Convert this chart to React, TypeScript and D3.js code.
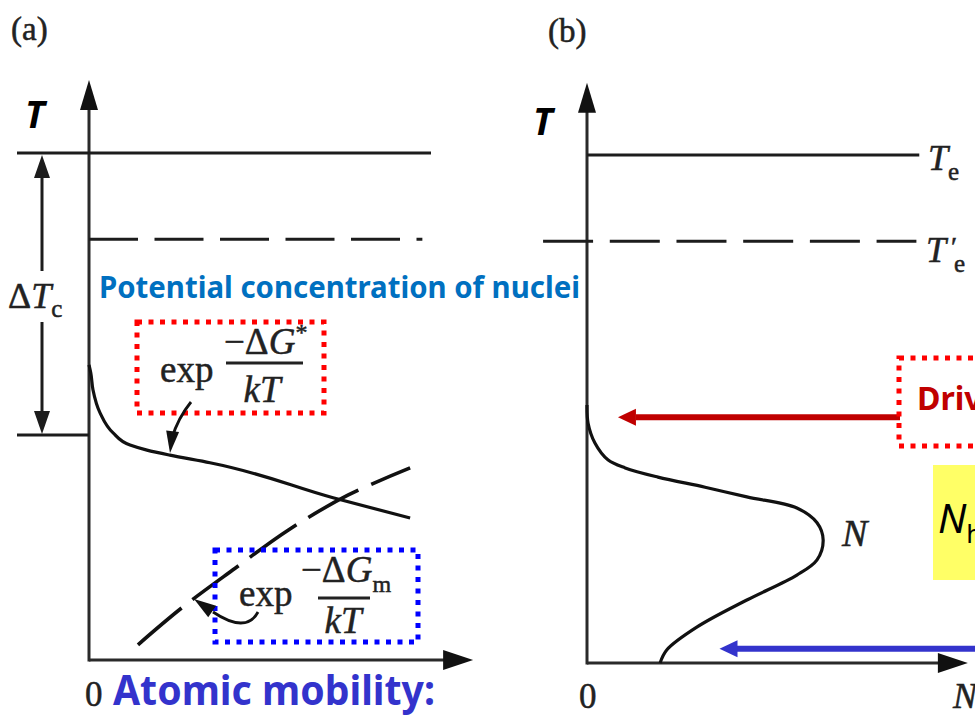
import { useEffect, useRef } from "react";
import * as d3 from "d3";

const W = 975;
const H = 715;

// temperature levels, in T-axis units (0 = origin, 100 = Te)
const levelTe = 100;
const levelTePrime = 83;
const levelTc = 44.4;
const levelDriving = 48.4;
const levelMobility = 2.8;

// axis extents (x units, T units)
const axisTopA = 114.4;
const axisRightA = 106.7;
const axisTopB = 114.2;
const axisRightB = 105.8;

// panel (a): exp(-ΔG*/kT), potential concentration of nuclei  [rate, T]
const nucleationCurve: [number, number][] = [
  [0, 58.2],
  [0.5, 56.6],
  [1.1, 53.3],
  [3.1, 48.7],
  [6.7, 44.8],
  [11.4, 42.4],
  [16.1, 41.4],
  [22.5, 40.4],
  [33.6, 38.9],
  [67.8, 32.0],
  [89.2, 28.0],
];

// panel (a): exp(-ΔGm/kT), atomic mobility  [rate, T]
const mobilityCurve: [number, number][] = [
  [13.6, 3.0],
  [25.8, 10.3],
  [40.6, 18.1],
  [55.3, 25.6],
  [71.9, 32.5],
  [89.2, 37.9],
];

// panel (b): N, nucleation rate  [rate, T]
const nCurve: [number, number][] = [
  [0, 50.8],
  [0.3, 47.2],
  [2.2, 43.3],
  [5.8, 40.0],
  [10.6, 38.4],
  [19.7, 36.6],
  [32.8, 34.6],
  [44.4, 32.7],
  [58.3, 30.5],
  [63.9, 27.6],
  [65.6, 24.2],
  [63.9, 20.3],
  [58.3, 17.3],
  [44.4, 12.4],
  [30.6, 7.1],
  [22.2, 2.6],
  [20.3, 0],
];

const INK = "#1c1c1c";
const SERIF = "'Liberation Serif', 'DejaVu Serif', serif";
const SANS = "'Noto Sans', 'Open Sans', sans-serif";

function head(g: any, tx: number, ty: number, angle: number, len: number, half: number, fill: string) {
  const c = Math.cos(angle);
  const s = Math.sin(angle);
  const bx = tx - c * len;
  const by = ty - s * len;
  const px = -s * half;
  const py = c * half;
  g.append("path")
    .attr("d", `M${tx},${ty}L${bx + px},${by + py}L${bx - px},${by - py}Z`)
    .attr("fill", fill);
}

function hline(g: any, x1: number, x2: number, y: number, dash?: string) {
  g.append("line")
    .attr("x1", x1)
    .attr("x2", x2)
    .attr("y1", y)
    .attr("y2", y)
    .attr("stroke", INK)
    .attr("stroke-width", 3)
    .attr("stroke-dasharray", dash || null);
}

function axes(g: any, x: any, y: any, top: number, right: number) {
  const x0 = x(0);
  const y0 = y(0);
  g.append("line")
    .attr("x1", x0).attr("x2", x0)
    .attr("y1", y0 + 1.5).attr("y2", y(top) + 20)
    .attr("stroke", "#2a2a2a").attr("stroke-width", 3);
  head(g, x0, y(top), -Math.PI / 2, 30, 9, "#111");
  g.append("line")
    .attr("x1", x0).attr("x2", x(right) - 20)
    .attr("y1", y0).attr("y2", y0)
    .attr("stroke", "#2a2a2a").attr("stroke-width", 3);
  head(g, x(right), y0, 0, 30, 10, "#111");
}

// serif text built from tspans: {t, i (italic), dx, dy, s (size)}
function rich(g: any, x: number, y: number, size: number, parts: any[], anchor = "start") {
  const t = g.append("text")
    .attr("x", x).attr("y", y)
    .attr("font-family", SERIF)
    .attr("font-size", size)
    .attr("fill", "#222")
    .attr("stroke", "#222")
    .attr("stroke-width", 0.5)
    .attr("text-anchor", anchor);
  parts.forEach((p) => {
    const s = t.append("tspan").text(p.t);
    if (p.i) s.attr("font-style", "italic");
    if (p.dx) s.attr("dx", p.dx);
    if (p.dy) s.attr("dy", p.dy);
    if (p.s) s.attr("font-size", p.s);
  });
  return t;
}

export default function App() {
  const ref = useRef<SVGSVGElement | null>(null);

  useEffect(() => {
    if (!ref.current) return;
    const svg = d3.select(ref.current);
    svg.selectAll("*").remove();

    const xA = d3.scaleLinear().domain([0, 100]).range([89, 449]);
    const yA = d3.scaleLinear().domain([0, 100]).range([660, 153]);
    const xB = d3.scaleLinear().domain([0, 100]).range([587, 947]);
    const yB = d3.scaleLinear().domain([0, 100]).range([663, 155]);

    const lineA = d3
      .line<[number, number]>()
      .x((d) => xA(d[0]))
      .y((d) => yA(d[1]));
    const lineB = d3
      .line<[number, number]>()
      .x((d) => xB(d[0]))
      .y((d) => yB(d[1]))
      .curve(d3.curveCatmullRom.alpha(0.5));

    // ---------- panel (a) ----------
    const a = svg.append("g");
    rich(a, 11, 40, 33, [{ t: "(a)" }]);
    a.append("text")
      .attr("x", 25).attr("y", 128)
      .attr("font-family", SANS).attr("font-weight", 700).attr("font-style", "italic")
      .attr("font-size", 37).text("T");

    axes(a, xA, yA, axisTopA, axisRightA);
    hline(a, xA(-20), xA(95), yA(levelTe));
    hline(a, xA(0), xA(92.6), yA(levelTePrime), "49 16.5");
    hline(a, xA(-20), xA(0), yA(levelTc));

    // ΔTc double arrow
    const ax = 42;
    a.append("line").attr("x1", ax).attr("x2", ax)
      .attr("y1", yA(levelTe) + 20).attr("y2", 271)
      .attr("stroke", INK).attr("stroke-width", 3);
    a.append("line").attr("x1", ax).attr("x2", ax)
      .attr("y1", 322).attr("y2", yA(levelTc) - 20)
      .attr("stroke", INK).attr("stroke-width", 3);
    head(a, ax, yA(levelTe) + 2, -Math.PI / 2, 23, 8, INK);
    head(a, ax, yA(levelTc) - 1, Math.PI / 2, 23, 8, INK);
    rich(a, 8, 308, 36, [{ t: "Δ" }, { t: "T", i: true }, { t: "c", s: 25, dy: 9 }]);

    a.append("text")
      .attr("x", 99).attr("y", 298)
      .attr("font-family", SANS).attr("font-weight", 700)
      .attr("font-size", 30.5).attr("fill", "#0070C0")
      .attr("textLength", 481).attr("lengthAdjust", "spacingAndGlyphs")
      .text("Potential concentration of nuclei");

    a.append("path").attr("d", lineA.curve(d3.curveMonotoneY)(nucleationCurve))
      .attr("fill", "none").attr("stroke", "#111").attr("stroke-width", 3.2);
    a.append("path").attr("d", lineA.curve(d3.curveCatmullRom.alpha(0.5))(mobilityCurve))
      .attr("fill", "none").attr("stroke", "#111").attr("stroke-width", 3.6)
      .attr("stroke-dasharray", "57 14");

    // red box: exp(-ΔG*/kT)
    a.append("rect").attr("x", 137).attr("y", 322).attr("width", 187).attr("height", 91)
      .attr("fill", "none").attr("stroke", "#FF0000").attr("stroke-width", 5)
      .attr("stroke-dasharray", "5 6.5");
    rich(a, 160, 382, 37, [{ t: "exp" }]);
    a.append("line").attr("x1", 226).attr("x2", 303).attr("y1", 363).attr("y2", 363)
      .attr("stroke", "#222").attr("stroke-width", 3);
    rich(a, 224, 354, 37, [{ t: "−Δ" }, { t: "G", i: true }, { t: "*", s: 24, dy: -14 }]);
    rich(a, 262, 402, 37, [{ t: "kT", i: true }], "middle");
    a.append("path").attr("d", "M191,402 Q178,418 172,438")
      .attr("fill", "none").attr("stroke", "#111").attr("stroke-width", 2.8);
    head(a, 170, 453, Math.PI / 2 + 0.12, 22, 6.5, "#111");

    // blue box: exp(-ΔGm/kT)
    a.append("rect").attr("x", 215).attr("y", 550).attr("width", 203).attr("height", 92)
      .attr("fill", "none").attr("stroke", "#0000FF").attr("stroke-width", 5)
      .attr("stroke-dasharray", "5 6.5");
    rich(a, 239, 606, 37, [{ t: "exp" }]);
    a.append("line").attr("x1", 318).attr("x2", 370).attr("y1", 598).attr("y2", 598)
      .attr("stroke", "#222").attr("stroke-width", 3);
    rich(a, 301, 582, 37, [{ t: "−Δ" }, { t: "G", i: true }, { t: "m", s: 24, dy: 10 }]);
    rich(a, 343, 633, 37, [{ t: "kT", i: true }], "middle");
    a.append("path").attr("d", "M258,612 Q246,634 213,612")
      .attr("fill", "none").attr("stroke", "#111").attr("stroke-width", 2.8);
    head(a, 194, 599, Math.PI + 0.6, 22, 7, "#111");

    rich(a, 85, 706, 35, [{ t: "0" }]);
    a.append("text")
      .attr("x", 113).attr("y", 705)
      .attr("font-family", SANS).attr("font-weight", 700)
      .attr("font-size", 41).attr("fill", "#3333CC")
      .attr("textLength", 322).attr("lengthAdjust", "spacingAndGlyphs")
      .text("Atomic mobility:");

    // ---------- panel (b) ----------
    const b = svg.append("g");
    rich(b, 548, 42, 33, [{ t: "(b)" }]);
    b.append("text")
      .attr("x", 533).attr("y", 135)
      .attr("font-family", SANS).attr("font-weight", 700).attr("font-style", "italic")
      .attr("font-size", 37).text("T");

    axes(b, xB, yB, axisTopB, axisRightB);
    hline(b, xB(0), xB(92.3), yB(levelTe));
    hline(b, xB(-12.2), xB(91.5), yB(levelTePrime), "50 16.7");
    rich(b, 928, 170, 36, [{ t: "T", i: true }, { t: "e", s: 25, dy: 10 }]);
    // T'e as separate pieces so the prime sits over the subscript
    rich(b, 926, 262, 36, [{ t: "T", i: true }]);
    rich(b, 951, 256, 28, [{ t: "′" }]);
    rich(b, 954, 272, 25, [{ t: "e" }]);

    b.append("path").attr("d", lineB(nCurve))
      .attr("fill", "none").attr("stroke", "#111").attr("stroke-width", 3.2);
    rich(b, 842, 546, 38, [{ t: "N", i: true }]);

    rich(b, 579, 708, 35, [{ t: "0" }]);
    rich(b, 953, 708, 36, [{ t: "N", i: true }]);

    // driving force
    b.append("line").attr("x1", 900).attr("x2", xB(8) + 20)
      .attr("y1", yB(levelDriving)).attr("y2", yB(levelDriving))
      .attr("stroke", "#C00000").attr("stroke-width", 6);
    head(b, xB(8.6), yB(levelDriving), Math.PI, 18, 8.5, "#C00000");
    b.append("rect").attr("x", 899).attr("y", 358).attr("width", 200).attr("height", 88)
      .attr("fill", "none").attr("stroke", "#FF0000").attr("stroke-width", 5)
      .attr("stroke-dasharray", "5 6.5");
    b.append("text").attr("x", 917).attr("y", 410)
      .attr("font-family", SANS).attr("font-weight", 700)
      .attr("font-size", 32).attr("fill", "#C00000").text("Driving force");

    // N_hom box
    b.append("rect").attr("x", 933).attr("y", 465).attr("width", 100).attr("height", 115)
      .attr("fill", "#FFFF66");
    const nt = b.append("text").attr("x", 938).attr("y", 533)
      .attr("font-family", SANS).attr("font-style", "italic")
      .attr("font-size", 40).attr("fill", "#000");
    nt.append("tspan").text("N");
    nt.append("tspan").attr("font-style", "normal").attr("font-size", 26).attr("dy", 10).text("hom");

    // atomic mobility arrow
    b.append("line").attr("x1", W + 5).attr("x2", xB(36.8) + 16)
      .attr("y1", yB(levelMobility)).attr("y2", yB(levelMobility))
      .attr("stroke", "#3333CC").attr("stroke-width", 6);
    head(b, xB(36.8), yB(levelMobility), Math.PI, 18, 8.5, "#3333CC");
  }, []);

  return (
    <svg
      ref={ref}
      width={W}
      height={H}
      viewBox={`0 0 ${W} ${H}`}
      style={{ position: "absolute", left: 0, top: 0, background: "#fff" }}
    />
  );
}
